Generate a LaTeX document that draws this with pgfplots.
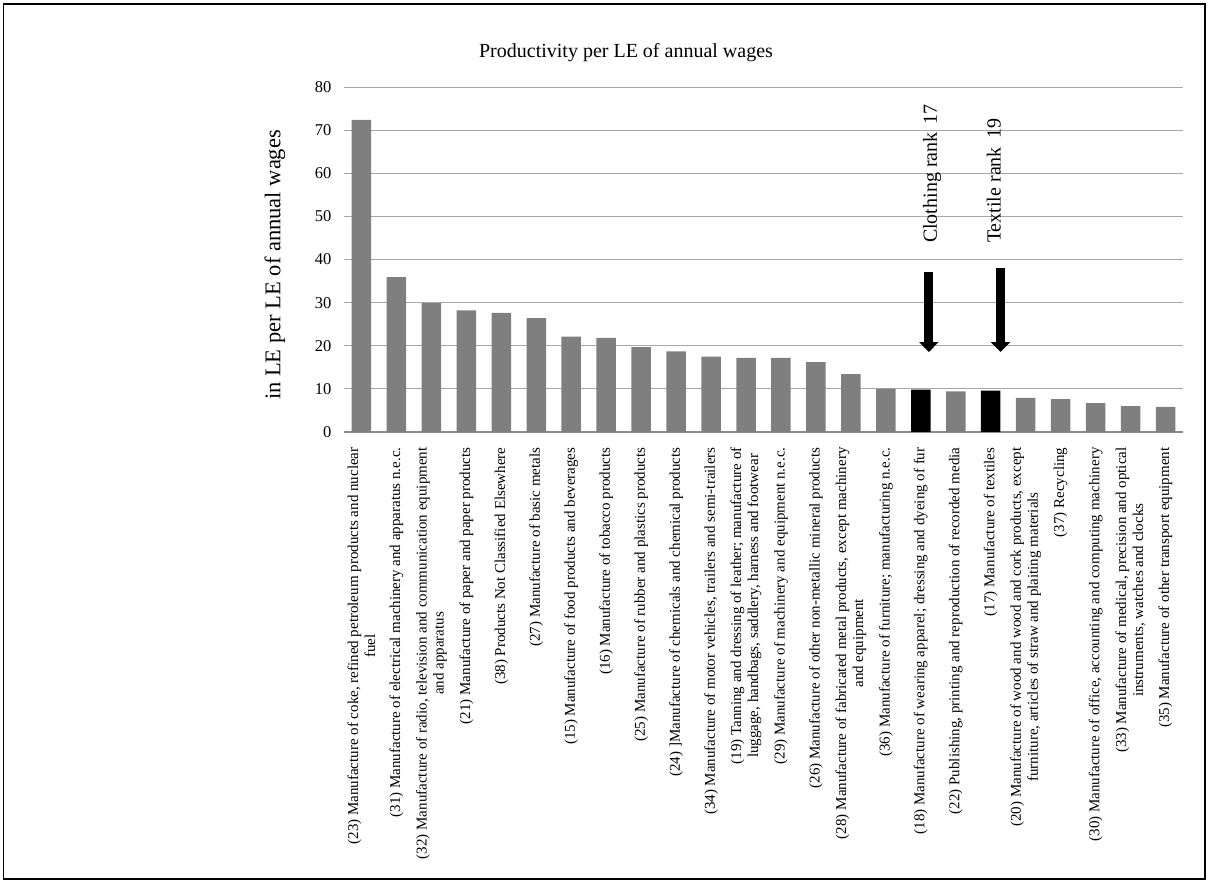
\documentclass[border=0pt]{standalone}
\usepackage{fontspec}
\setmainfont{Liberation Serif}
\usepackage{pgfplots}
\pgfplotsset{compat=1.18}
\usetikzlibrary{arrows.meta}

\definecolor{barGray}{HTML}{7F7F7F}
\definecolor{gridGray}{HTML}{A6A6A6}
\definecolor{baseGray}{HTML}{8C8C8C}

\begin{document}
\begin{tikzpicture}
\path[use as bounding box] (0pt,0pt) rectangle (1208pt,881pt);
% outer chart frame
\draw[black, line width=1.8pt] (3.5pt,2.2pt) rectangle (1205pt,877.3pt);

\begin{axis}[
  at={(344pt,449pt)}, anchor=south west,
  scale only axis, width=839pt, height=345pt,
  xmin=-0.5, xmax=23.5, ymin=0, ymax=80,
  ytick={0,10,...,80},
  xtick={0,...,23},
  major tick length=0pt,
  ymajorgrids, grid style={gridGray, line width=1pt},
  axis x line*=bottom,
  axis y line*=left,
  x axis line style={baseGray, line width=2pt, -},
  y axis line style={draw=none},
  /pgf/number format/assume math mode=true,
  yticklabel style={font=\fontsize{16.5}{18}\selectfont, xshift=-9pt},
  xticklabel style={rotate=90, anchor=east, align=center,
    font=\fontsize{15}{17}\selectfont},
  xticklabel shift=12pt,
  xticklabels={
    {(23) Manufacture of coke, refined petroleum products and nuclear\\fuel},
    {(31) Manufacture of electrical machinery and apparatus n.e.c.},
    {(32) Manufacture of radio, television and communication equipment\\and apparatus},
    {(21) Manufacture of paper and paper products},
    {(38) Products Not Classified Elsewhere},
    {(27) Manufacture of basic metals},
    {(15) Manufacture of food products and beverages},
    {(16) Manufacture of tobacco products},
    {(25) Manufacture of rubber and plastics products},
    {(24) ]Manufacture of chemicals and chemical products},
    {(34) Manufacture of motor vehicles, trailers and semi-trailers},
    {(19) Tanning and dressing of leather; manufacture of\\luggage, handbags, saddlery, harness and footwear},
    {(29) Manufacture of machinery and equipment n.e.c.},
    {(26) Manufacture of other non-metallic mineral products},
    {(28) Manufacture of fabricated metal products, except machinery\\and equipment},
    {(36) Manufacture of furniture; manufacturing n.e.c.},
    {(18) Manufacture of wearing apparel; dressing and dyeing of fur},
    {(22) Publishing, printing and reproduction of recorded media},
    {(17) Manufacture of textiles},
    {(20) Manufacture of wood and wood and cork products, except\\furniture, articles of straw and plaiting materials},
    {(37) Recycling},
    {(30) Manufacture of office, accounting and computing machinery},
    {(33) Manufacture of medical, precision and optical\\instruments, watches and clocks},
    {(35) Manufacture of other transport equipment}
  },
  ybar, bar width=19.5pt,
]
% all sectors except clothing and textiles
\addplot[fill=barGray, draw=none, bar shift=0pt] coordinates {
  (0,72.4) (1,35.9) (2,29.9) (3,28.2) (4,27.6) (5,26.4) (6,22.1) (7,21.8)
  (8,19.7) (9,18.7) (10,17.5) (11,17.2) (12,17.2) (13,16.2) (14,13.4)
  (15,10.0) (17,9.4) (19,7.9) (20,7.65) (21,6.7) (22,6.0) (23,5.8)
};
% clothing (18) and textiles (17)
\addplot[fill=black, draw=none, bar shift=0pt] coordinates {
  (16,9.8) (18,9.6)
};

% pointers to the two highlighted sectors
\draw[black, line width=9pt, -{Triangle[width=19pt,length=10pt]}]
  (axis cs:16.23,37.1) -- (axis cs:16.23,18.55);
\draw[black, line width=9pt, -{Triangle[width=19pt,length=10pt]}]
  (axis cs:18.28,38.0) -- (axis cs:18.28,18.55);
\node[rotate=90, anchor=west, inner sep=0pt, font=\fontsize{20}{22}\selectfont]
  at (axis cs:16.32,43.8) {Clothing rank\, 17};
\node[rotate=90, anchor=west, inner sep=0pt, font=\fontsize{20}{22}\selectfont]
  at (axis cs:18.09,43.8) {Textile rank\, 19};
\end{axis}

% y axis title
\node[rotate=90, font=\fontsize{22.5}{24}\selectfont] at (275pt,616pt) {in LE per LE of annual wages};
% chart title
\node[anchor=base, font=\fontsize{20}{22}\selectfont] at (626pt,823pt) {Productivity per LE of annual wages};
\end{tikzpicture}
\end{document}
